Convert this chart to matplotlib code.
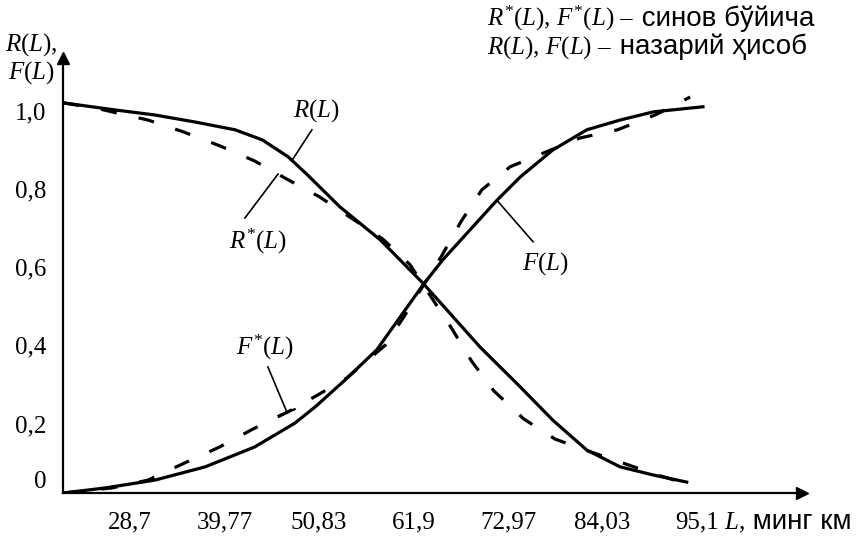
import numpy as np
import matplotlib
matplotlib.use("Agg")
import matplotlib.pyplot as plt

plt.rcParams["font.family"] = ["Liberation Serif", "DejaVu Serif"]
plt.rcParams["mathtext.fontset"] = "custom"
plt.rcParams["mathtext.rm"] = "Liberation Serif"
plt.rcParams["mathtext.it"] = "Liberation Serif:italic"
plt.rcParams["mathtext.bf"] = "Liberation Serif:bold"

# mileage L, thousand km, and reliability / failure probability
L_R = [20.9, 26.9, 31.6, 36.3, 41.0, 44.2, 47.2, 49.5, 53.3, 58.0, 63.0,
       69.7, 74.4, 78.2, 82.2, 86.1, 90.0, 93.9]
R_theory = [1.0, 0.982, 0.969, 0.951, 0.931, 0.905, 0.862, 0.815, 0.733,
            0.649, 0.538, 0.374, 0.272, 0.187, 0.110, 0.067, 0.046, 0.028]

L_F = [20.9, 25.8, 31.6, 37.5, 43.3, 48.0, 50.4, 53.9, 57.6, 63.0, 65.3,
       71.7, 74.4, 78.2, 82.2, 86.1, 90.0, 95.8]
F_theory = [0.0, 0.013, 0.033, 0.067, 0.118, 0.179, 0.221, 0.290, 0.367,
            0.533, 0.597, 0.751, 0.810, 0.879, 0.931, 0.956, 0.977, 0.990]

L_Rs = [20.9, 25.0, 30.8, 34.9, 39.2, 43.3, 47.2, 50.9, 58.3, 61.5, 66.4,
        68.7, 71.3, 74.8, 78.5, 82.3, 86.4, 90.5, 94.3]
R_test = [1.0, 0.985, 0.956, 0.926, 0.890, 0.851, 0.803, 0.759, 0.651,
          0.585, 0.421, 0.338, 0.262, 0.190, 0.138, 0.108, 0.077, 0.046,
          0.021]

L_Fs = [20.9, 26.6, 30.8, 35.1, 39.2, 43.1, 47.2, 50.9, 54.1, 58.6, 60.9,
        65.2, 67.5, 69.9, 73.2, 77.4, 81.4, 85.8, 90.2, 94.3]
F_test = [0.0, 0.013, 0.033, 0.077, 0.118, 0.164, 0.208, 0.254, 0.295,
          0.379, 0.456, 0.608, 0.697, 0.777, 0.836, 0.874, 0.910, 0.931,
          0.969, 1.015]

x_ticks = [28.7, 39.77, 50.83, 61.9, 72.97, 84.03, 95.1]
x_labels = ["28,7", "39,77", "50,83", "61,9", "72,97", "84,03", "95,1"]
y_ticks = [0, 0.2, 0.4, 0.6, 0.8, 1.0]
y_labels = ["0", "0,2", "0,4", "0,6", "0,8", "1,0"]

W, H = 860, 538
sans = ["Liberation Sans", "DejaVu Sans"]
fs = 18
fs_words = 20


def fig_xy(px, py):
    return px / W, 1 - py / H


fig = plt.figure(figsize=(W / 100, H / 100), dpi=100)
ax = fig.add_axes([63 / W, 45 / H, 739 / W, 435 / H])
ax.set_xlim(20.85, 107.4)
ax.set_ylim(0, 1.115)

# axes with arrow heads
for side in ["top", "right"]:
    ax.spines[side].set_visible(False)
for side in ["left", "bottom"]:
    ax.spines[side].set_linewidth(1.6)
ax.plot(1, 0, ">k", ms=9, transform=ax.transAxes, clip_on=False)
ax.plot(0, 1, "^k", ms=9, transform=ax.transAxes, clip_on=False)

ax.set_xticks(x_ticks, x_labels)
ax.set_yticks(y_ticks, y_labels)
ax.tick_params(length=0, labelsize=fs)
ax.tick_params(axis="x", pad=13)
ax.tick_params(axis="y", pad=12)
for lab in ax.get_yticklabels()[1:]:
    lab.set_va("top")
ax.get_yticklabels()[0].set_va("bottom")

# theoretical curves (solid) and test curves (dashed)
ax.plot(L_R, R_theory, color="k", lw=2.3, solid_joinstyle="round")
ax.plot(L_F, F_theory, color="k", lw=2.3, solid_joinstyle="round")
ax.plot(L_Rs, R_test, color="k", lw=2.3, dashes=(5, 7))
ax.plot(L_Fs, F_test, color="k", lw=2.3, dashes=(5, 7))

# curve labels with leader lines
lead = dict(color="k", lw=1.2)

L0 = 47.67
y0 = np.interp(L0, L_R, R_theory)
ax.plot([L0, 50.0], [y0, 0.931], **lead)
ax.text(50.5, 0.979, "$R(L)$", fontsize=fs, ha="center", va="center")

L0 = 46.03
y0 = np.interp(L0, L_Rs, R_test)
ax.plot([42.16, L0], [0.705, y0], **lead)
ax.text(43.7, 0.645, "$R^{*}(L)$", fontsize=fs, ha="center", va="center")

L0 = 47.08
y0 = np.interp(L0, L_Fs, F_test)
ax.plot([44.85, L0], [0.323, y0], **lead)
ax.plot([L0 - 0.9, L0 + 0.9], [y0 - 0.008, y0 + 0.008], color="k", lw=1.6)
ax.text(44.5, 0.374, "$F^{*}(L)$", fontsize=fs, ha="center", va="center")

L0 = 71.67
y0 = np.interp(L0, L_F, F_theory)
ax.plot([L0, 75.9], [y0, 0.644], **lead)
ax.text(77.4, 0.587, "$F(L)$", fontsize=fs, ha="center", va="center")

# axis titles
fig.text(*fig_xy(5, 45), "$R(L)$,", fontsize=fs, va="center")
fig.text(*fig_xy(8, 73), "$F(L)$", fontsize=fs, va="center")
t = fig.text(*fig_xy(724, 529), "$L$,", fontsize=fs, va="baseline")
ax.annotate(" минг км", xy=(1, fig_xy(0, 529)[1]),
            xycoords=(t, "figure fraction"), fontsize=fs_words,
            family=sans, va="baseline")

# notation
for py, math_part, words in [
        (26, r"$R^{*}(L)$, $F^{*}(L)$ –", " синов бўйича"),
        (54, r"$R(L)$, $F(L)$ –", " назарий ҳисоб")]:
    t = fig.text(*fig_xy(487, py), math_part, fontsize=fs, va="baseline")
    ax.annotate(words, xy=(1, fig_xy(0, py)[1]),
                xycoords=(t, "figure fraction"), fontsize=fs_words,
                family=sans, va="baseline")

fig.savefig("out.png", dpi=100)
